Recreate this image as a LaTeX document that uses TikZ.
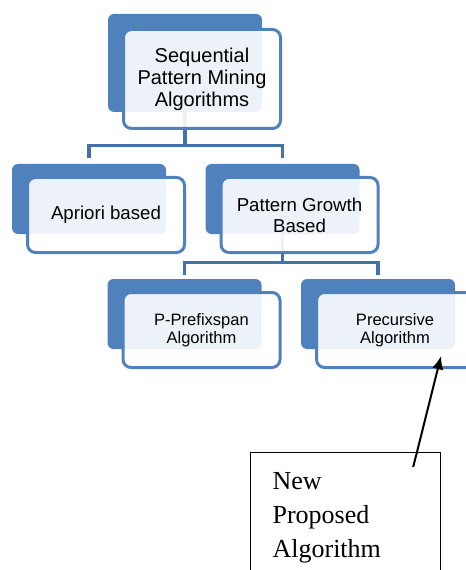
\documentclass[tikz,border=0pt]{standalone}
\usepackage{fontspec}
\setmainfont{Liberation Serif}
\setsansfont{Liberation Sans}
\usetikzlibrary{positioning,arrows.meta}
\definecolor{boxblue}{HTML}{4F81BD}
\definecolor{linkblue}{HTML}{4472AA}

\begin{document}
\begin{tikzpicture}[
        x=0.75pt, y=-0.75pt,
        backbox/.style={rectangle, rounded corners=4.5pt, fill=boxblue, minimum width=115.5pt, minimum height=52.5pt},
        frontbox/.style={rectangle, rounded corners=6pt, draw=boxblue, line width=2.25pt, fill=white, fill opacity=0.9, text opacity=1, text=black, align=center, minimum width=117.75pt, minimum height=56.25pt, xshift=12.75pt, yshift=-12pt},
        bigtext/.style={font=\sffamily\fontsize{15pt}{16.5pt}\selectfont},
        midtext/.style={font=\sffamily\fontsize{14pt}{15.75pt}\selectfont},
        smalltext/.style={font=\sffamily\fontsize{12.4pt}{13.5pt}\selectfont},
        link/.style={draw=linkblue, line width=2.6pt},
        newbox/.style={draw=black, line width=0.9pt, text width=109.5pt, align=left, inner xsep=16.5pt, inner ysep=15pt, font=\rmfamily\fontsize{19.5pt}{25.5pt}\selectfont},
        pointer/.style={-{Latex[length=10pt,width=8.5pt]}, line width=1.5pt}
    ]
    \path[use as bounding box, clip] (0,0) rectangle (466,570);

    \node[backbox, minimum height=73.5pt] (seqback) at (185,63) {};
    \node[backbox] (aprioriback) at (89,199) {};
    \node[backbox, right=29.25pt of aprioriback] (growthback) {};
    \node[backbox] (prefixback) at (184.5,314) {};
    \node[backbox, right=29.25pt of prefixback] (precursiveback) {};

    \draw[link, shorten >=4.5pt] (seqback.south) -- ++(0,33) -| (aprioriback.north);
    \draw[link, shorten >=4.5pt] (seqback.south) -- ++(0,33) -| (growthback.north);
    \draw[link, shorten >=3pt] (growthback.south) -- ++(0,28) -| (prefixback.north);
    \draw[link, shorten >=3pt] (growthback.south) -- ++(0,28) -| (precursiveback.north);

    \node[frontbox, bigtext, minimum height=74.25pt] (seq) at (seqback) {Sequential\\Pattern Mining\\Algorithms};
    \node[frontbox, midtext] (apriori) at (aprioriback) {Apriori based};
    \node[frontbox, midtext] (growth) at (growthback) {Pattern Growth\\Based};
    \node[frontbox, smalltext] (prefix) at (prefixback) {P-Prefixspan\\Algorithm};
    \node[frontbox, smalltext] (precursive) at (precursiveback) {Precursive\\Algorithm};

    \node[newbox, anchor=north west] (newalg) at (250,452) {New\\Proposed\\Algorithm};

    \path (newalg.north east) ++(-28,15) coordinate (tail);
    \path (precursive.south east) ++(-34,-13) coordinate (tip);
    \draw[pointer] (tail) -- (tip);
\end{tikzpicture}
\end{document}
